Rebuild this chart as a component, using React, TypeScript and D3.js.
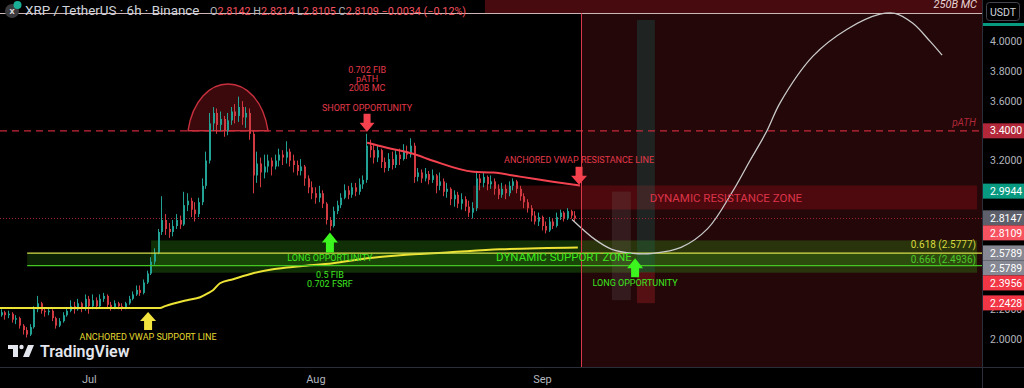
import React from "react";
import * as d3 from "d3";

const W = 1024;
const H = 388;
const PLOT_R = 982;
const PLOT_B = 367;

// ---------- candle data (12h bars) ----------
const FIRST_BAR = "2025-06-19 00";
const BAR_HOURS = 12;
const FIRST_OPEN = 2.16;
const closes = [
  2.18, 2.16, 2.17, 2.13, 2.14, 2.09, 2.06, 2.03, 2.08, 2.2, 2.24, 2.19, 2.18, 2.19, 2.14, 2.09, 2.12, 2.16, 2.19, 2.22, 2.2, 2.24, 2.21, 2.27,
  2.22, 2.26, 2.22, 2.27, 2.29, 2.23, 2.21, 2.24, 2.22, 2.21, 2.24, 2.27, 2.3, 2.33, 2.31, 2.38, 2.44, 2.52, 2.58, 2.72, 2.8, 2.74, 2.72, 2.76, 2.8, 2.77, 2.9, 2.93, 2.87, 2.84, 2.92, 3.03, 3.2, 3.45, 3.52, 3.44, 3.48, 3.4, 3.47, 3.53, 3.5, 3.56, 3.49, 3.52, 3.38, 3.1, 3.18, 3.12, 3.16, 3.2, 3.16, 3.2, 3.24, 3.22, 3.26, 3.2, 3.17, 3.13, 3.16, 3.08, 3.02, 2.98,
  2.95, 2.98, 2.91, 2.8, 2.76, 2.86, 2.9, 2.95, 3.0, 2.97, 3.02, 2.99, 3.04, 3.07, 3.3, 3.27, 3.22, 3.27, 3.19, 3.15, 3.21, 3.17, 3.24, 3.21, 3.26, 3.24, 3.3, 3.09, 3.12, 3.08, 3.11, 3.07, 3.1, 3.03, 3.06, 2.99, 3.01, 2.94, 2.97, 2.91, 2.94, 2.89, 2.85, 2.88, 3.08, 3.05, 3.09, 3.04, 3.06, 3.01, 2.97, 3.01, 2.98, 3.03, 3.06, 3.01, 2.96, 2.92, 2.88, 2.83, 2.79, 2.82,
  2.76, 2.73, 2.79, 2.76, 2.82, 2.85, 2.81, 2.86, 2.83, 2.81,
];
const highs = [
  2.2, 2.19, 2.19, 2.18, 2.16, 2.15, 2.1, 2.08, 2.1, 2.22, 2.29, 2.25, 2.21, 2.21, 2.2, 2.15, 2.14, 2.18, 2.21, 2.26, 2.25, 2.27, 2.25, 2.3,
  2.29, 2.3, 2.28, 2.3, 2.31, 2.3, 2.25, 2.26, 2.25, 2.24, 2.25, 2.29, 2.32, 2.36, 2.36, 2.4, 2.46, 2.55, 2.61, 2.74, 2.96, 2.84, 2.78, 2.8, 2.84, 2.83, 2.99, 2.98, 2.95, 2.92, 2.95, 3.08, 3.26, 3.52, 3.56, 3.55, 3.53, 3.5, 3.52, 3.56, 3.58, 3.63, 3.6, 3.56, 3.55, 3.4, 3.26, 3.22, 3.24, 3.24, 3.22, 3.24, 3.28, 3.27, 3.33, 3.28, 3.24, 3.2, 3.21, 3.17, 3.1, 3.06,
  3.02, 3.03, 3.0, 2.92, 2.82, 2.89, 2.93, 2.98, 3.04, 3.03, 3.05, 3.05, 3.08, 3.1, 3.38, 3.34, 3.31, 3.3, 3.28, 3.22, 3.25, 3.26, 3.27, 3.28, 3.31, 3.3, 3.35, 3.32, 3.15, 3.14, 3.15, 3.13, 3.14, 3.11, 3.12, 3.08, 3.05, 3.02, 3.0, 2.99, 2.98, 2.96, 2.93, 2.92, 3.13, 3.11, 3.12, 3.1, 3.1, 3.08, 3.04, 3.05, 3.04, 3.06, 3.08, 3.07, 3.03, 2.98, 2.94, 2.9, 2.86, 2.85,
  2.83, 2.79, 2.82, 2.81, 2.85, 2.87, 2.86, 2.88, 2.87, 2.86,
];
const lows = [
  2.15, 2.13, 2.14, 2.11, 2.1, 2.07, 2.03, 2.01, 2.02, 2.07, 2.18, 2.17, 2.15, 2.16, 2.12, 2.07, 2.08, 2.11, 2.15, 2.18, 2.17, 2.19, 2.18, 2.19,
  2.17, 2.2, 2.2, 2.21, 2.25, 2.21, 2.19, 2.2, 2.2, 2.19, 2.2, 2.23, 2.26, 2.29, 2.29, 2.3, 2.37, 2.43, 2.5, 2.57, 2.7, 2.7, 2.68, 2.69, 2.74, 2.74, 2.76, 2.86, 2.82, 2.79, 2.82, 2.9, 3.01, 3.18, 3.4, 3.38, 3.4, 3.36, 3.37, 3.44, 3.45, 3.46, 3.44, 3.42, 3.34, 2.98, 3.05, 3.02, 3.08, 3.12, 3.1, 3.14, 3.16, 3.17, 3.18, 3.16, 3.12, 3.1, 3.1, 3.03, 2.98, 2.94,
  2.91, 2.92, 2.88, 2.77, 2.73, 2.75, 2.84, 2.88, 2.94, 2.94, 2.95, 2.96, 2.97, 3.01, 3.05, 3.22, 3.18, 3.19, 3.15, 3.12, 3.13, 3.14, 3.15, 3.17, 3.2, 3.21, 3.22, 3.05, 3.06, 3.05, 3.06, 3.04, 3.05, 2.98, 3.0, 2.96, 2.95, 2.9, 2.89, 2.88, 2.87, 2.86, 2.82, 2.81, 2.86, 3.0, 3.02, 3.0, 3.01, 2.97, 2.94, 2.95, 2.94, 2.96, 3.0, 2.98, 2.93, 2.88, 2.85, 2.79, 2.77, 2.76,
  2.73, 2.71, 2.72, 2.74, 2.75, 2.8, 2.79, 2.8, 2.81, 2.79,
];

// ---------- axes ----------
const monthTickDates = ["2025-07-01 00", "2025-08-01 00", "2025-09-01 00"];
const monthTickLabels = ["Jul", "Aug", "Sep"];
const priceTicks = [4.0, 3.8, 3.6, 3.2, 2.2, 2.0];

// ---------- drawn studies ----------
const vwapSupport: [string, number][] = [
  ["2025-06-18 12", 2.208], ["2025-07-10 16", 2.208], ["2025-07-11 09", 2.221], ["2025-07-14 09", 2.261],
  ["2025-07-16 04", 2.281], ["2025-07-17 06", 2.308], ["2025-07-17 22", 2.328], ["2025-07-18 21", 2.375],
  ["2025-07-20 16", 2.402], ["2025-07-23 10", 2.442], ["2025-07-26 03", 2.469], ["2025-07-29 20", 2.489],
  ["2025-08-03 08", 2.509], ["2025-08-08 00", 2.543], ["2025-08-12 12", 2.563], ["2025-08-19 08", 2.583],
  ["2025-08-26 04", 2.603], ["2025-09-05 20", 2.616],
];
const vwapResistance: [string, number][] = [
  ["2025-08-08 00", 3.32], ["2025-08-10 17", 3.286], ["2025-08-14 07", 3.246], ["2025-08-17 00", 3.199],
  ["2025-08-22 12", 3.125], ["2025-08-25 06", 3.119], ["2025-08-28 22", 3.092], ["2025-09-02 10", 3.058],
  ["2025-09-06 03", 3.032],
];
const projection: [string, number][] = [
  ["2025-09-05 01", 2.804], ["2025-09-08 04", 2.67], ["2025-09-10 12", 2.603], ["2025-09-13 09", 2.576],
  ["2025-09-16 03", 2.576], ["2025-09-19 23", 2.616], ["2025-09-23 15", 2.744], ["2025-09-26 22", 2.985],
  ["2025-09-29 09", 3.199], ["2025-10-01 17", 3.4], ["2025-10-03 12", 3.588], ["2025-10-08 00", 3.902],
  ["2025-10-12 16", 4.083], ["2025-10-17 04", 4.184], ["2025-10-19 05", 4.19], ["2025-10-21 16", 4.123],
  ["2025-10-24 00", 4.003], ["2025-10-25 16", 3.909],
];

const PATH_LEVEL = 3.4;
const MC250_LEVEL = 4.19;
const DOTTED_LEVEL = 2.8147;
const FIB618 = 2.5777;
const FIB666 = 2.4936;
const NOW_DATE = "2025-09-06 06";
const MC_STRIP_START = "2025-08-24 03";
const ZONE_END = "2025-10-30 11";
const FIB_BAND_START = "2025-06-22 12";
const resistanceZone = { start: "2025-08-22 12", top: 3.032, bottom: 2.871 };
const supportZone = { start: "2025-07-09 11", top: 2.663, bottom: 2.446 };
const dome = { start: "2025-07-14 12", end: "2025-07-25 11", base: 3.4, peak: 3.715 };
const column1 = { start: "2025-09-10 12", end: "2025-09-13 02", top: 2.991, bottom: 2.261 };
const column2 = { start: "2025-09-13 22", end: "2025-09-16 09", top: 4.146, mid: 2.449, bottom: 2.241 };

const shortSignal = { date: "2025-08-08 00", price: 3.393 };
const longSignal1 = { date: "2025-08-02 22", price: 2.717 };
const vwapSupportSignal = { date: "2025-07-09 01", price: 2.181 };
const vwapResSignal = { date: "2025-09-06 00", price: 3.038 };
const longSignal2 = { date: "2025-09-13 16", price: 2.543 };

const axisLabels = [
  { value: 3.4, text: "3.4000", bg: "#b2283a" },
  { value: 2.9944, text: "2.9944", bg: "#089981" },
  { value: 2.8147, text: "2.8147", bg: "#5d606b" },
  { value: 2.8109, text: "2.8109", bg: "#f7525f" },
  { value: 2.5789, text: "2.5789", bg: "#868993" },
  { value: 2.5789, text: "2.5789", bg: "#868993" },
  { value: 2.3956, text: "2.3956", bg: "#f23645" },
  { value: 2.2428, text: "2.2428", bg: "#f23645" },
];

const FONT = "Roboto, 'Noto Sans', sans-serif";
const parse = d3.utcParse("%Y-%m-%d %H");
const P = (s: string) => parse(s) as Date;

function upArrow(cx: number, tip: number, len: number, headH: number, headW: number, shaftW: number) {
  return `M${cx},${tip} L${cx + headW / 2},${tip + headH} L${cx + shaftW / 2},${tip + headH} L${cx + shaftW / 2},${tip + len} L${cx - shaftW / 2},${tip + len} L${cx - shaftW / 2},${tip + headH} L${cx - headW / 2},${tip + headH} Z`;
}
function downArrow(cx: number, tip: number, len: number, headH: number, headW: number, shaftW: number) {
  return `M${cx},${tip} L${cx + headW / 2},${tip - headH} L${cx + shaftW / 2},${tip - headH} L${cx + shaftW / 2},${tip - len} L${cx - shaftW / 2},${tip - len} L${cx - shaftW / 2},${tip - headH} L${cx - headW / 2},${tip - headH} Z`;
}

export default function App() {
  const x = d3.scaleUtc().domain([P("2025-07-01 00"), P("2025-09-01 00")]).range([89.3, 542.5]);
  const y = d3.scaleLinear().domain([2.0, 4.0]).range([339, 41.6]);

  const start = P(FIRST_BAR);
  const bars = closes.map((c, i) => {
    const o = i === 0 ? FIRST_OPEN : closes[i - 1];
    return { date: d3.utcHour.offset(start, i * BAR_HOURS), o, c, h: highs[i], l: lows[i] };
  });

  const lineGen = d3
    .line<[string, number]>()
    .x((d) => x(P(d[0])))
    .y((d) => y(d[1]))
    .curve(d3.curveMonotoneX);
  const projGen = d3
    .line<[string, number]>()
    .x((d) => x(P(d[0])))
    .y((d) => y(d[1]))
    .curve(d3.curveCatmullRom.alpha(0.5));

  const xNow = Math.round(x(P(NOW_DATE)));
  const xZoneEnd = x(P(ZONE_END));

  // dome
  const dx0 = x(P(dome.start));
  const dx1 = x(P(dome.end));
  const dyb = y(dome.base);
  const dyp = y(dome.peak);
  const dyc = (dyp - 0.25 * dyb) / 0.75;
  const dw = dx1 - dx0;
  const domePath = `M${dx0},${dyb} C${dx0 + dw * 0.12},${dyc} ${dx1 - dw * 0.12},${dyc} ${dx1},${dyb}`;

  // axis label layout (push down on overlap)
  const LH = 15;
  const placed: { y: number; text: string; bg: string }[] = [];
  axisLabels.forEach((l) => {
    let yy = y(l.value);
    if (placed.length) {
      const prev = placed[placed.length - 1];
      if (yy < prev.y + LH) yy = prev.y + LH;
    }
    placed.push({ y: yy, text: l.text, bg: l.bg });
  });

  const sx = x(P(shortSignal.date));
  const sy = y(shortSignal.price);
  const l1x = x(P(longSignal1.date));
  const l1y = y(longSignal1.price);
  const vsx = x(P(vwapSupportSignal.date));
  const vsy = y(vwapSupportSignal.price);
  const vrx = x(P(vwapResSignal.date));
  const vry = y(vwapResSignal.price);
  const l2x = x(P(longSignal2.date));
  const l2y = y(longSignal2.price);

  const red = "#e3394a";
  const green = "#3ee61f";

  return (
    <svg width={W} height={H} style={{ position: "fixed", left: 0, top: 0, background: "#000" }} fontFamily={FONT}>
      <defs>
        <clipPath id="plot">
          <rect x={0} y={0} width={PLOT_R} height={PLOT_B} />
        </clipPath>
      </defs>
      <rect x={0} y={0} width={W} height={H} fill="#000" />
      <g clipPath="url(#plot)">
        {/* future zone */}
        <rect x={xNow} y={y(MC250_LEVEL)} width={PLOT_R - xNow} height={PLOT_B - y(MC250_LEVEL)} fill="#230709" />
        <rect x={x(P(MC_STRIP_START))} y={0} width={PLOT_R - x(P(MC_STRIP_START))} height={y(MC250_LEVEL)} fill="#470a0e" />
        {/* resistance zone */}
        <rect
          x={x(P(resistanceZone.start))}
          y={y(resistanceZone.top)}
          width={xZoneEnd - x(P(resistanceZone.start))}
          height={y(resistanceZone.bottom) - y(resistanceZone.top)}
          fill="rgba(180,15,25,0.3)"
        />
        {/* support zone */}
        <rect
          x={x(P(supportZone.start))}
          y={y(supportZone.top)}
          width={xZoneEnd - x(P(supportZone.start))}
          height={y(supportZone.bottom) - y(supportZone.top)}
          fill="rgba(60,170,20,0.28)"
        />
        <rect
          x={x(P(FIB_BAND_START))}
          y={y(FIB618)}
          width={xZoneEnd - x(P(FIB_BAND_START))}
          height={y(FIB666) - y(FIB618)}
          fill="rgba(60,170,20,0.2)"
        />
        {/* columns */}
        <rect
          x={x(P(column1.start))}
          y={y(column1.top)}
          width={x(P(column1.end)) - x(P(column1.start))}
          height={y(column1.bottom) - y(column1.top)}
          fill="rgba(120,110,110,0.2)"
        />
        <rect
          x={x(P(column2.start))}
          y={y(column2.top)}
          width={x(P(column2.end)) - x(P(column2.start))}
          height={y(column2.mid) - y(column2.top)}
          fill="rgba(20,110,100,0.28)"
        />
        <rect
          x={x(P(column2.start))}
          y={y(column2.mid)}
          width={x(P(column2.end)) - x(P(column2.start))}
          height={y(column2.bottom) - y(column2.mid)}
          fill="rgba(200,40,40,0.3)"
        />
        {/* dome */}
        <path d={domePath + " Z"} fill="rgba(170,25,35,0.35)" stroke="#c8303e" strokeWidth={1.4} />
        {/* level lines */}
        <line x1={0} x2={PLOT_R} y1={y(PATH_LEVEL)} y2={y(PATH_LEVEL)} stroke="#c8283a" strokeWidth={1.3} strokeDasharray="7,5" />
        <line x1={0} x2={PLOT_R} y1={Math.round(y(MC250_LEVEL)) + 0.5} y2={Math.round(y(MC250_LEVEL)) + 0.5} stroke="#cdb6b6" strokeWidth={1} />
        <line x1={0} x2={PLOT_R} y1={Math.round(y(DOTTED_LEVEL)) + 0.5} y2={Math.round(y(DOTTED_LEVEL)) + 0.5} stroke="#9a2232" strokeWidth={1} strokeDasharray="1,2" />
        {/* candles */}
        {bars.map((b, i) => {
          const cx = Math.round(x(b.date));
          const up = b.c >= b.o;
          const col = up ? "#22a294" : "#d23a41";
          const top = y(Math.max(b.o, b.c));
          const bot = y(Math.min(b.o, b.c));
          return (
            <g key={i}>
              <line x1={cx - 0.5} x2={cx - 0.5} y1={y(b.h)} y2={y(b.l)} stroke={col} strokeWidth={1} />
              <rect x={cx - 1} y={top} width={2} height={Math.max(1, bot - top)} fill={col} />
            </g>
          );
        })}
        {/* vwap lines */}
        <path d={lineGen(vwapSupport) || ""} fill="none" stroke="#ece334" strokeWidth={2} />
        <path d={lineGen(vwapResistance) || ""} fill="none" stroke="#f2414f" strokeWidth={2} />
        {/* fib lines */}
        <line x1={x(P(FIB_BAND_START))} x2={PLOT_R} y1={y(FIB618)} y2={y(FIB618)} stroke="#d6e04a" strokeWidth={1.3} />
        <line x1={x(P(FIB_BAND_START))} x2={PLOT_R} y1={y(FIB666)} y2={y(FIB666)} stroke="#45c623" strokeWidth={1.3} />
        {/* projection */}
        <path d={projGen(projection) || ""} fill="none" stroke="#c9c9c9" strokeWidth={1.3} />
        {/* now line */}
        <line x1={xNow + 0.5} x2={xNow + 0.5} y1={y(MC250_LEVEL)} y2={PLOT_B} stroke="#d8384a" strokeWidth={1} />

        {/* arrows */}
        <path d={downArrow(sx, sy, 18, 9, 15, 7)} fill="#f5404e" />
        <path d={upArrow(l1x, l1y, 20, 10, 16, 8)} fill="#3cf41e" />
        <path d={upArrow(vsx, vsy, 18, 9, 16, 8)} fill="#f3e33e" />
        <path d={downArrow(vrx, vry, 18, 9, 16, 7)} fill="#f5404e" />
        <path d={upArrow(l2x, l2y, 19, 10, 16, 8)} fill="#3cf41e" />

        {/* annotation texts */}
        <g fontSize={9} textAnchor="middle" fill={red}>
          <text x={sx} y={sy - 59}>0.702 FIB</text>
          <text x={sx} y={sy - 50}>pATH</text>
          <text x={sx} y={sy - 41}>200B MC</text>
          <text x={sx} y={sy - 21}>SHORT OPPORTUNITY</text>
          <text x={vrx} y={vry - 22}>ANCHORED VWAP RESISTANCE LINE</text>
        </g>
        <g fontSize={9} textAnchor="middle" fill={green}>
          <text x={l1x} y={l1y + 29}>LONG OPPORTUNITY</text>
          <text x={l1x} y={l1y + 46}>0.5 FIB</text>
          <text x={l1x} y={l1y + 55}>0.702 FSRF</text>
          <text x={l2x} y={l2y + 28}>LONG OPPORTUNITY</text>
        </g>
        <text x={vsx} y={vsy + 28} fontSize={9} textAnchor="middle" fill="#e6da30">ANCHORED VWAP SUPPORT LINE</text>
        <text x={726} y={y((resistanceZone.top + resistanceZone.bottom) / 2) + 4} fontSize={11.5} textAnchor="middle" fill="#dc3448">DYNAMIC RESISTANCE ZONE</text>
        <text x={564} y={y(FIB618) + 8} fontSize={11.5} textAnchor="middle" fill={green}>DYNAMIC SUPPORT ZONE</text>
        <text x={976} y={y(FIB618) - 5} fontSize={10} textAnchor="end" fill="#d8d83c">0.618 (2.5777)</text>
        <text x={976} y={y(FIB666) - 3} fontSize={10} textAnchor="end" fill="#4ec62a">0.666 (2.4936)</text>
        <text x={976} y={y(PATH_LEVEL) - 5} fontSize={10} textAnchor="end" fontStyle="italic" fill="#b02838">pATH</text>
        <text x={977} y={y(MC250_LEVEL) - 5} fontSize={11} textAnchor="end" fontStyle="italic" fill="#e8d4d4">250B MC</text>
      </g>

      {/* right axis */}
      <rect x={PLOT_R} y={0} width={W - PLOT_R} height={H} fill="#000" />
      <rect x={0} y={PLOT_B} width={W} height={H - PLOT_B} fill="#000" />
      <line x1={PLOT_R + 0.5} x2={PLOT_R + 0.5} y1={0} y2={H} stroke="#2a2e39" />
      <line x1={0} x2={W} y1={PLOT_B + 0.5} y2={PLOT_B + 0.5} stroke="#2a2e39" />
      {priceTicks.map((p) => (
        <text key={p} x={990} y={y(p)} dy="0.35em" fontSize={10.5} fill="#b2b5be">
          {p.toFixed(4)}
        </text>
      ))}
      {placed.map((l, i) => (
        <g key={i}>
          <rect x={PLOT_R + 1} y={l.y - LH / 2} width={W - PLOT_R - 1} height={LH} fill={l.bg} />
          <text x={990} y={l.y} dy="0.35em" fontSize={10.5} fill="#fff">
            {l.text}
          </text>
        </g>
      ))}
      <rect x={PLOT_R + 1} y={23} width={W - PLOT_R - 1} height={3} fill="#089981" />
      <rect x={986.5} y={2.5} width={33} height={18} rx={3} fill="#000" stroke="#434651" />
      <text x={1003} y={12} dy="0.35em" fontSize={10.5} textAnchor="middle" fill="#d1d4dc">USDT</text>

      {/* bottom axis */}
      {monthTickDates.map((d, i) => (
        <text key={d} x={x(P(d))} y={379} dy="0.35em" fontSize={11} textAnchor="middle" fill="#b2b5be">
          {monthTickLabels[i]}
        </text>
      ))}

      {/* header */}
      <circle cx={12} cy={11} r={7} fill="#3b3b3f" />
      <text x={12} y={11} dy="0.35em" fontSize={8} textAnchor="middle" fill="#e0e0e0" fontWeight={700}>X</text>
      <circle cx={17.5} cy={5} r={4} fill="#1aae96" />
      <text x={25} y={15} fontSize={13.4} fill="#d1d4dc">XRP / TetherUS · 6h · Binance</text>
      <text x={210} y={14.5} fontSize={10.8} fill="#f7525f">
        <tspan fill="#b2b5be">O</tspan>2.8142 <tspan fill="#b2b5be">H</tspan>2.8214 <tspan fill="#b2b5be">L</tspan>2.8105{" "}
        <tspan fill="#b2b5be">C</tspan>2.8109 −0.0034 (−0.12%)
      </text>

      {/* TradingView logo */}
      <g fill="#e3e6ec">
        <rect x={8} y={345} width={10} height={4} />
        <rect x={13} y={345} width={5} height={12} />
        <circle cx={21.5} cy={347} r={2.2} />
        <path d="M23,357 L28,345 L34,345 L29,357 Z" />
        <text x={40} y={357} fontSize={16} fontWeight={600}>TradingView</text>
      </g>
    </svg>
  );
}
